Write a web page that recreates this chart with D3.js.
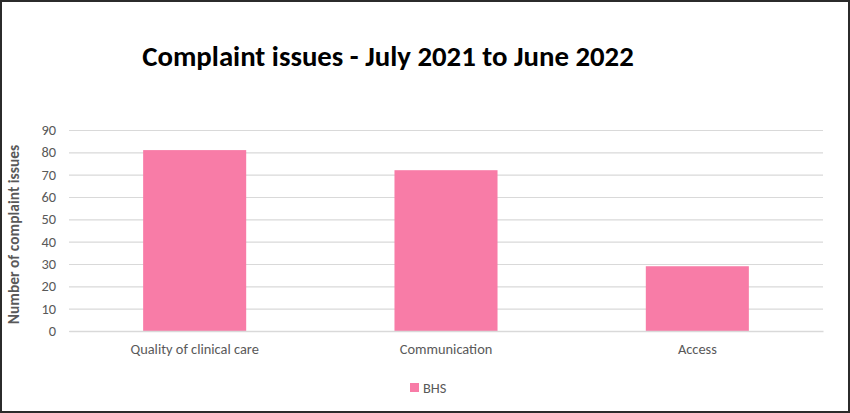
<!DOCTYPE html>
<html>
<head>
<meta charset="utf-8">
<script src="https://cdn.jsdelivr.net/npm/d3@7"></script>
<style>
  body { margin: 0; background: #fff; }
  svg { display: block; }
</style>
</head>
<body>
<div id="chart"></div>
<script>
const categories = ["Quality of clinical care", "Communication", "Access"]
const bhsValues = [81, 72, 29]
const yTicks = [0, 10, 20, 30, 40, 50, 60, 70, 80, 90]
const seriesName = "BHS"

const W = 850, H = 413
const margin = {top: 130, right: 27, bottom: 82, left: 69}
const width = W - margin.left - margin.right
const height = H - margin.top - margin.bottom
const font = "Calibri, Carlito, Lato, sans-serif"

const svg = d3.select("#chart").append("svg")
    .attr("width", W)
    .attr("height", H)

svg.append("rect")
    .attr("x", 1).attr("y", 1)
    .attr("width", W - 2).attr("height", H - 2)
    .attr("fill", "#fff")
    .attr("stroke", "#2b2b2b")
    .attr("stroke-width", 2)

svg.append("text")
    .attr("x", 388)
    .attr("y", 66)
    .attr("text-anchor", "middle")
    .attr("font-family", font)
    .attr("font-weight", "bold")
    .attr("font-size", 28.8)
    .attr("fill", "#000")
    .text("Complaint issues - July 2021 to June 2022")

const g = svg.append("g")
    .attr("transform", "translate(" + margin.left + "," + margin.top + ")")

const x = d3.scaleBand()
    .domain(categories)
    .range([0, width])
    .paddingInner(0.59)
    .paddingOuter(0.295)

const y = d3.scaleLinear()
    .domain([0, 90])
    .range([height, 0])

// gridlines
g.append("g")
    .call(d3.axisLeft(y).tickValues(yTicks).tickSize(-width).tickFormat(""))
    .call(a => a.select(".domain").remove())
    .call(a => a.selectAll("line").attr("stroke", "#d9d9d9").attr("stroke-width", 1.2))

// y labels
g.append("g")
    .call(d3.axisLeft(y).tickValues(yTicks).tickSize(0).tickPadding(13))
    .call(a => a.select(".domain").remove())
    .call(a => a.selectAll("text")
        .attr("font-family", font)
        .attr("font-size", 14.4)
        .attr("fill", "#595959"))

g.selectAll("rect.bar")
    .data(bhsValues)
    .enter().append("rect")
    .attr("class", "bar")
    .attr("x", (d, i) => x(categories[i]))
    .attr("y", d => y(d))
    .attr("width", x.bandwidth())
    .attr("height", d => height - y(d))
    .attr("fill", "#f87ca7")

// x axis
g.append("g")
    .attr("transform", "translate(0," + height + ")")
    .call(d3.axisBottom(x).tickSize(0).tickPadding(13))
    .call(a => a.select(".domain").attr("stroke", "#d9d9d9").attr("stroke-width", 1.5))
    .call(a => a.selectAll("text")
        .attr("font-family", font)
        .attr("font-size", 14.4)
        .attr("fill", "#595959"))

svg.append("text")
    .attr("transform", "translate(19," + (margin.top + height / 2 + 4) + ") rotate(-90)")
    .attr("text-anchor", "middle")
    .attr("font-family", font)
    .attr("font-weight", "bold")
    .attr("font-size", 15.5)
    .attr("fill", "#595959")
    .text("Number of complaint issues")

const legend = svg.append("g").attr("transform", "translate(410,383)")
legend.append("rect")
    .attr("width", 9).attr("height", 9)
    .attr("fill", "#f87ca7")
legend.append("text")
    .attr("x", 13).attr("y", 9.5)
    .attr("font-family", font)
    .attr("font-size", 14.4)
    .attr("fill", "#595959")
    .text(seriesName)
</script>
</body>
</html>
